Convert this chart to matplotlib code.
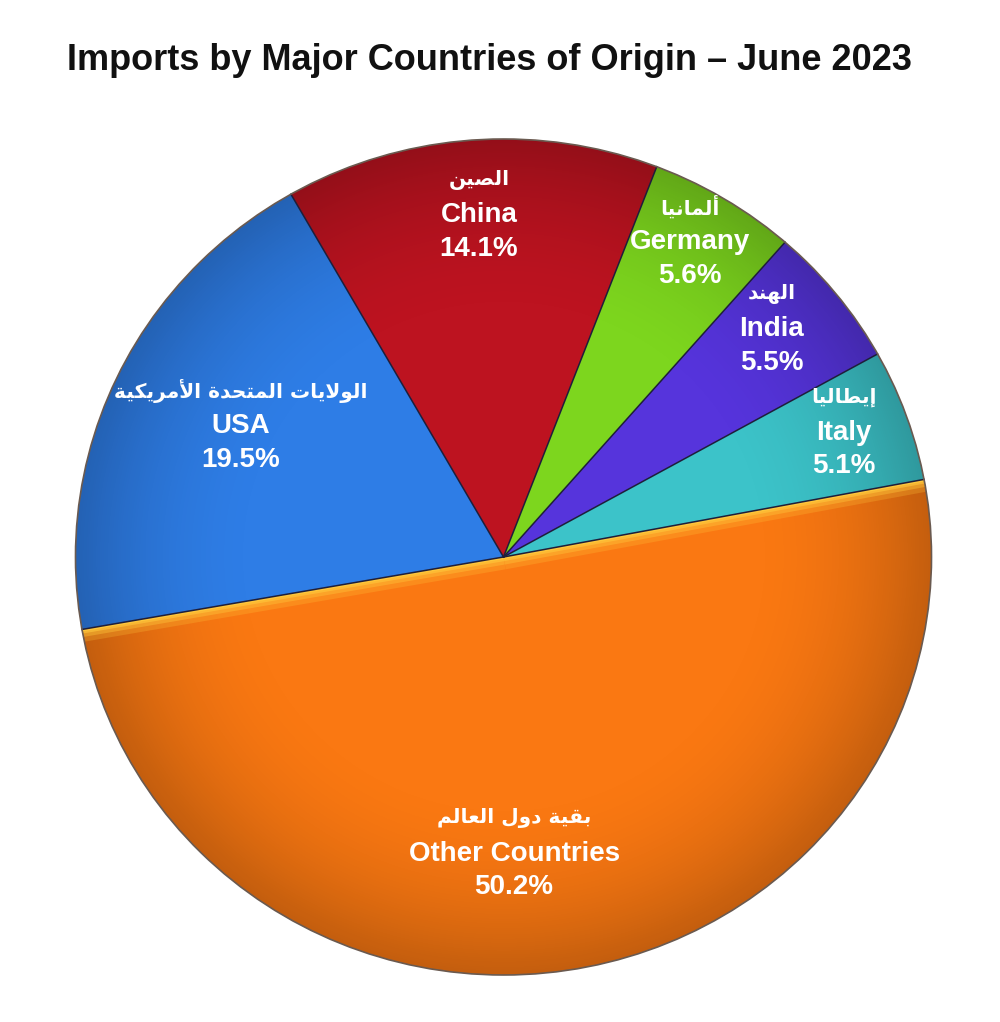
import numpy as np
import matplotlib
matplotlib.use("Agg")
import matplotlib.pyplot as plt
from matplotlib.patches import Ellipse

# ---------------- data ----------------
title = "Imports by Major Countries of Origin \u2013 June 2023"
countries_en = ["Italy", "India", "Germany", "China", "USA", "Other Countries"]
countries_ar = ["إيطاليا", "الهند", "ألمانيا", "الصين",
                "الولايات المتحدة الأمريكية", "بقية دول العالم"]
shares = [5.1, 5.5, 5.6, 14.1, 19.5, 50.2]
colors = ["#3cc3c9", "#5634dc", "#7dd61e", "#bd1320", "#2e7de6", "#fa7812"]

# label layout: (radius fraction, angle in degrees)
label_pos = [(0.85, 20.5), (0.83, 41.0), (0.87, 60.0), (0.82, 94.0),
             (0.69, 153.0), (0.71, -88.0)]

# ---------------- minimal Arabic shaping ----------------
FORMS = {  # isolated, final, initial, medial
    "ا": ("\uFE8D", "\uFE8E", None, None),
    "أ": ("\uFE83", "\uFE84", None, None),
    "إ": ("\uFE87", "\uFE88", None, None),
    "ب": ("\uFE8F", "\uFE90", "\uFE91", "\uFE92"),
    "ة": ("\uFE93", "\uFE94", None, None),
    "ت": ("\uFE95", "\uFE96", "\uFE97", "\uFE98"),
    "ح": ("\uFEA1", "\uFEA2", "\uFEA3", "\uFEA4"),
    "د": ("\uFEA9", "\uFEAA", None, None),
    "ر": ("\uFEAD", "\uFEAE", None, None),
    "ص": ("\uFEB9", "\uFEBA", "\uFEBB", "\uFEBC"),
    "ط": ("\uFEC1", "\uFEC2", "\uFEC3", "\uFEC4"),
    "ع": ("\uFEC9", "\uFECA", "\uFECB", "\uFECC"),
    "ق": ("\uFED5", "\uFED6", "\uFED7", "\uFED8"),
    "ك": ("\uFED9", "\uFEDA", "\uFEDB", "\uFEDC"),
    "ل": ("\uFEDD", "\uFEDE", "\uFEDF", "\uFEE0"),
    "م": ("\uFEE1", "\uFEE2", "\uFEE3", "\uFEE4"),
    "ن": ("\uFEE5", "\uFEE6", "\uFEE7", "\uFEE8"),
    "ه": ("\uFEE9", "\uFEEA", "\uFEEB", "\uFEEC"),
    "و": ("\uFEED", "\uFEEE", None, None),
    "ي": ("\uFEF1", "\uFEF2", "\uFEF3", "\uFEF4"),
}
LAMALEF = {"ا": ("\uFEFB", "\uFEFC"), "أ": ("\uFEF7", "\uFEF8"),
           "إ": ("\uFEF9", "\uFEFA")}


def dual(c):
    return c in FORMS and FORMS[c][2] is not None


def shape(text):
    out = []
    i = 0
    n = len(text)
    while i < n:
        c = text[i]
        if c not in FORMS:
            out.append(c)
            i += 1
            continue
        prev = text[i - 1] if i > 0 else " "
        join_prev = dual(prev)
        if c == "ل" and i + 1 < n and text[i + 1] in LAMALEF:
            out.append(LAMALEF[text[i + 1]][1 if join_prev else 0])
            i += 2
            continue
        nxt = text[i + 1] if i + 1 < n else " "
        join_next = dual(c) and nxt in FORMS
        iso, fin, ini, med = FORMS[c]
        if join_prev and join_next:
            out.append(med)
        elif join_prev:
            out.append(fin)
        elif join_next:
            out.append(ini)
        else:
            out.append(iso)
        i += 1
    return "".join(out)[::-1]


# ---------------- figure ----------------
W, H = 1000, 1022
fig = plt.figure(figsize=(W / 100, H / 100), dpi=100)
fig.patch.set_facecolor("white")

cx, cy = 503.5, 557.0      # pie centre in pixels (from top)
rx, ry = 428.0, 418.0      # radii in pixels
pad = 1.02
ax = fig.add_axes([(cx - rx * pad) / W, (H - cy - ry * pad) / H,
                   2 * rx * pad / W, 2 * ry * pad / H])

wedges, _ = ax.pie(shares, colors=colors, startangle=10.7, counterclock=True,
                   radius=1.0,
                   wedgeprops=dict(edgecolor="none", linewidth=0))
ax.set_aspect("auto")
ax.set_xlim(-pad, pad)
ax.set_ylim(-pad, pad)
ax.axis("off")

# radial shading toward the rim (clipped to the pie)
n = 600
g = np.linspace(-pad, pad, n)
X, Y = np.meshgrid(g, g)
R = np.sqrt(X ** 2 + Y ** 2)
shade = np.zeros((n, n, 4))
alpha = np.clip((R - 0.55) / 0.45, 0, 1) ** 2 * 0.22
shade[..., 3] = alpha
img = ax.imshow(shade, extent=(-pad, pad, -pad, pad), origin="lower",
                interpolation="bilinear", zorder=2, aspect="auto")
clip = Ellipse((0, 0), 2.0, 2.0, transform=ax.transData)
img.set_clip_path(clip)

# soft bevel highlight on the straight edges of the big orange wedge
other = wedges[-1]
th1, th2 = np.radians(other.theta1), np.radians(other.theta2)
for th in (th1, th2):
    for lw, a in ((18, 0.25), (11, 0.4), (6, 0.6), (3, 0.9)):
        ln, = ax.plot([0, np.cos(th)], [0, np.sin(th)], color="#ffc83c",
                      lw=lw, alpha=a, solid_capstyle="butt", zorder=3)
        ln.set_clip_path(other)

# dark separators and rim
for w in wedges:
    th = np.radians(w.theta1)
    ax.plot([0, np.cos(th)], [0, np.sin(th)], color="#1e1e3a", lw=1.1,
            zorder=4)
ax.add_patch(Ellipse((0, 0), 2.0, 2.0, fill=False, edgecolor="#6a5a50",
                     lw=1.2, zorder=4))

for (r, ang), en, ar, v in zip(label_pos, countries_en, countries_ar, shares):
    x = r * np.cos(np.radians(ang))
    y = r * np.sin(np.radians(ang))
    ax.text(x, y + 0.085, shape(ar), ha="center", va="center", color="white",
            fontsize=14.5, fontweight="bold", family=["DejaVu Sans"], zorder=5)
    ax.text(x, y, en, ha="center", va="center", color="white",
            fontsize=20, fontweight="bold",
            family=["Liberation Sans", "DejaVu Sans"], zorder=5)
    ax.text(x, y - 0.08, f"{v:.1f}%", ha="center", va="center", color="white",
            fontsize=20, fontweight="bold",
            family=["Liberation Sans", "DejaVu Sans"], zorder=5)

fig.text(489 / W, 1 - 61 / H, title, ha="center", va="center", color="#111111",
         fontsize=26, fontweight="bold", family=["Liberation Sans", "DejaVu Sans"])

fig.savefig("out.png", dpi=100)
